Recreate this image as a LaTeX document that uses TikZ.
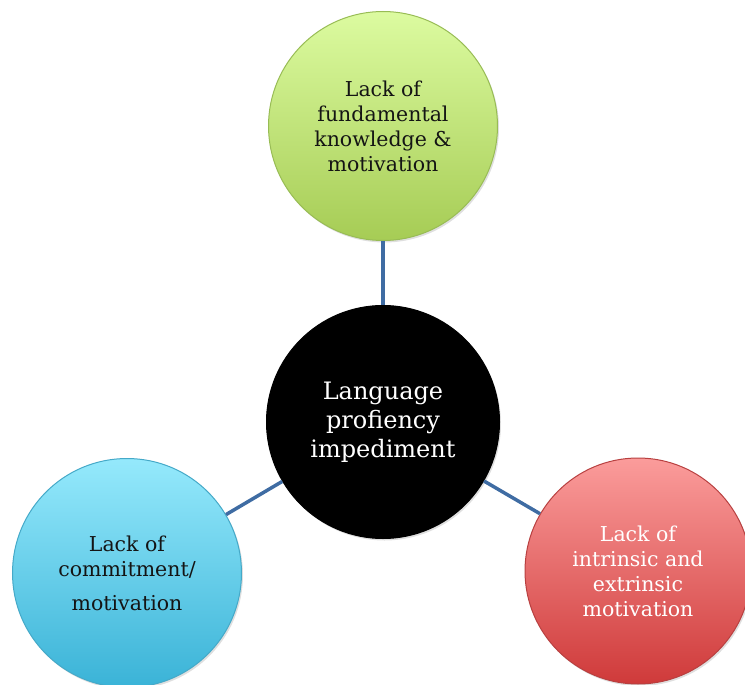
\documentclass[tikz,border=0pt]{standalone}
\usepackage{fontspec}
\setmainfont{DejaVu Serif}
\usetikzlibrary{shadows}
\definecolor{greenTop}{HTML}{DCFBA0}
\definecolor{greenBot}{HTML}{A6CC55}
\definecolor{greenEdge}{HTML}{98BC55}
\definecolor{blueTop}{HTML}{95E9FC}
\definecolor{blueBot}{HTML}{3AB3D7}
\definecolor{blueEdge}{HTML}{45A9C8}
\definecolor{redTop}{HTML}{FB9C9B}
\definecolor{redBot}{HTML}{CF3A3A}
\definecolor{redEdge}{HTML}{B84040}
\definecolor{linkBlue}{HTML}{3F6CA3}
\definecolor{inkDark}{HTML}{141414}
\tikzset{
  bubble/.style={circle, inner sep=0pt, line width=1pt, align=center,
    drop shadow={shadow xshift=1.5pt, shadow yshift=-2pt, opacity=0.25}},
  bubbletext/.style={font=\fontsize{20.5}{25}\selectfont},
  conn/.style={draw=linkBlue, line width=3.5pt}
}
\begin{document}
\begin{tikzpicture}[x=1pt,y=-1pt]
\useasboundingbox (0,0) rectangle (745,685);
\clip (0,0) rectangle (745,685);
% outer ideas
\node[bubble, bubbletext, text=inkDark, minimum size=229pt, top color=greenTop, bottom color=greenBot, draw=greenEdge]
  (know) at (383,126) {Lack of\\fundamental\\knowledge \&\\motivation};
\node[bubble, bubbletext, text=inkDark, minimum size=229pt, top color=blueTop, bottom color=blueBot, draw=blueEdge]
  (commit) at (127,573) {Lack of\\commitment/\\[9pt]motivation};
\node[bubble, bubbletext, text=white, minimum size=226pt, top color=redTop, bottom color=redBot, draw=redEdge]
  (motiv) at (638,571) {Lack of\\intrinsic and\\extrinsic\\motivation};
% central issue
\node[bubble, fill=black, draw=black, text=white, minimum size=233pt,
  font=\fontsize{24}{29}\selectfont] (core) at (383,422) {Language\\profiency\\impediment};
% links
\draw[conn] (know) -- (core);
\draw[conn] (commit) -- (core);
\draw[conn] (motiv) -- (core);
\end{tikzpicture}
\end{document}
